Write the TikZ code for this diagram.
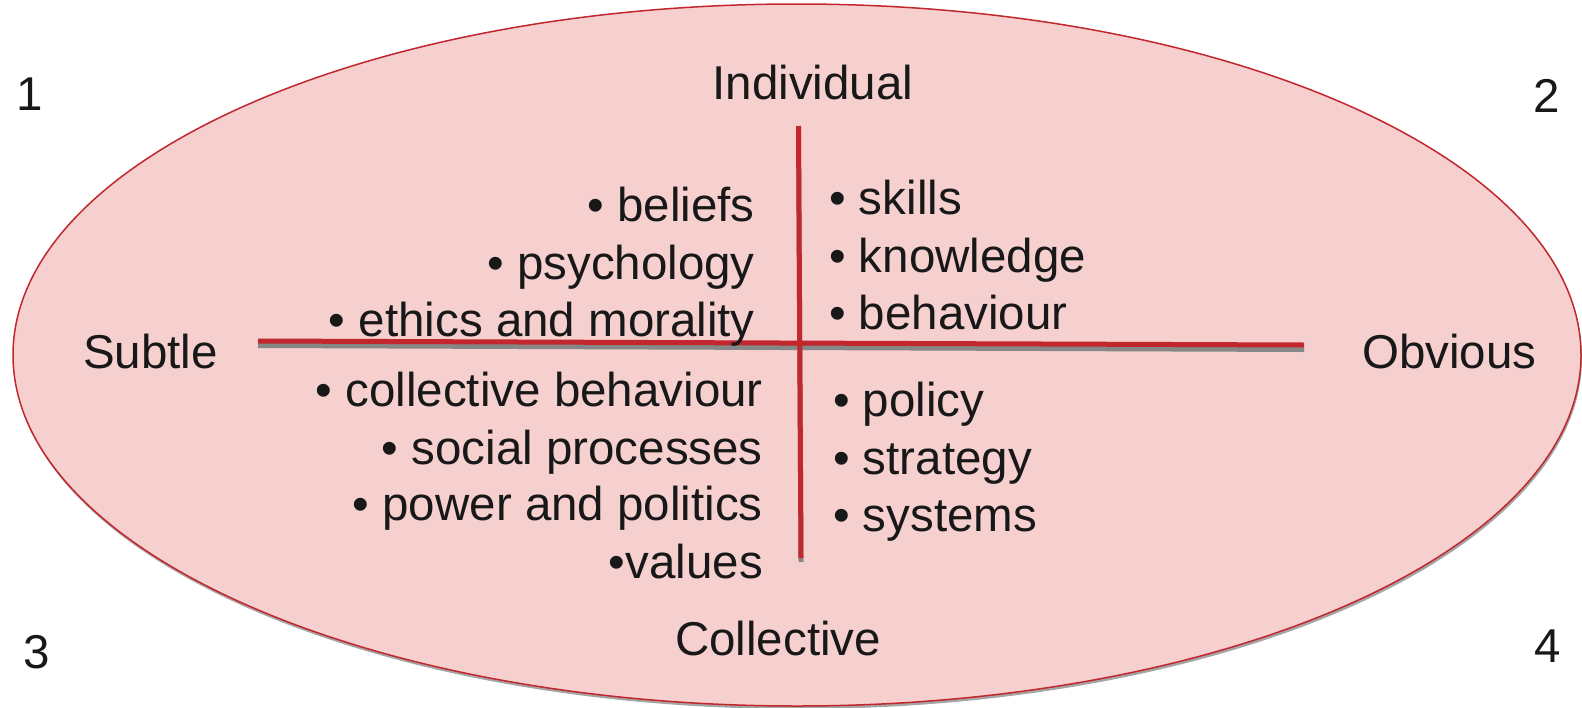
\documentclass[tikz,border=0pt]{standalone}
\usepackage{fontspec}
\setmainfont{Liberation Sans}
\definecolor{pinkfill}{RGB}{246,207,207}
\definecolor{redline}{RGB}{193,39,45}
\definecolor{linegray}{RGB}{135,135,135}
\definecolor{ellgray}{RGB}{165,165,165}
\definecolor{ink}{RGB}{24,24,24}
\begin{document}
\begin{tikzpicture}[x=1pt,y=-1pt,
  lbl/.style={inner sep=0pt, text=ink, font=\fontsize{47.5}{56}\selectfont},
  redaxis/.style={draw=redline, line width=5pt},
  grayaxis/.style={draw=linegray, line width=5pt}]
\useasboundingbox (0,0) rectangle (1582,707);
% ellipse with shadow
\fill[ellgray] (798,358) ellipse [x radius=784, y radius=351];
\filldraw[fill=pinkfill, draw=redline, line width=1.5pt] (797,355) ellipse [x radius=784, y radius=351];
% axes
\coordinate (hL) at (258,341);
\coordinate (hR) at (1304,345);
\coordinate (vT) at (798.5,126);
\coordinate (vB) at (801,558);
\draw[grayaxis] ([yshift=-4.5pt]hL) -- ([yshift=-4.5pt]hR);
\draw[grayaxis] ([yshift=-4pt]vT) -- ([yshift=-4pt]vB);
\draw[redaxis] (hL) -- (hR);
\draw[redaxis] (vT) -- (vB);
% corner numbers
\node[lbl, anchor=base west] (n1) at (16,110) {1};
\node[lbl, anchor=base west] (n2) at (1533,112) {2};
\node[lbl, anchor=base west] (n3) at (23,668) {3};
\node[lbl, anchor=base west] (n4) at (1534,662) {4};
% axis labels
\node[lbl, anchor=base] (ind) at (813,99) {Individual};
\node[lbl, anchor=base] (col) at (778,655) {Collective};
\node[lbl, anchor=base west] (sub) at (83,368) {Subtle};
\node[lbl, anchor=base west] (obv) at (1362,368) {Obvious};
% upper left
\node[lbl, anchor=base east] (ul1) at (755,221) {• beliefs};
\node[lbl, anchor=base east] (ul2) at (755,279) {• psychology};
\node[lbl, anchor=base east] (ul3) at (755,336) {• ethics and morality};
% upper right
\node[lbl, anchor=base west] (ur1) at (829,214) {• skills};
\node[lbl, anchor=base west] (ur2) at (829,272) {• knowledge};
\node[lbl, anchor=base west] (ur3) at (829,329) {• behaviour};
% lower left
\node[lbl, anchor=base east] (ll1) at (763,406) {• collective behaviour};
\node[lbl, anchor=base east] (ll2) at (763,464) {• social processes};
\node[lbl, anchor=base east] (ll3) at (763,520) {• power and politics};
\node[lbl, anchor=base east] (ll4) at (763,578) {•values};
% lower right
\node[lbl, anchor=base west] (lr1) at (833,416) {• policy};
\node[lbl, anchor=base west] (lr2) at (833,474) {• strategy};
\node[lbl, anchor=base west] (lr3) at (833,531) {• systems};
\end{tikzpicture}
\end{document}
